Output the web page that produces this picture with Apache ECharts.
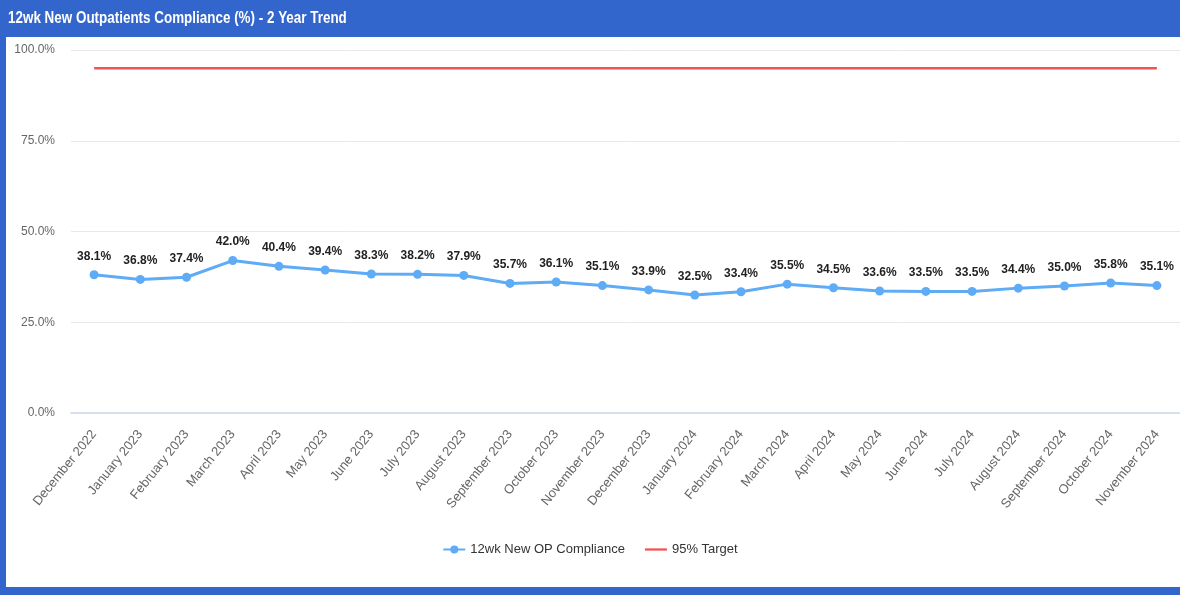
<!DOCTYPE html>
<html>
<head>
<meta charset="utf-8">
<script src="https://cdn.jsdelivr.net/npm/echarts@6/dist/echarts.min.js"></script>
<style>
  html, body { margin: 0; padding: 0; background: #ffffff; }
  #chart { width: 1180px; height: 595px; }
</style>
</head>
<body>
<div id="chart"></div>
<script>
// Months covered by the trend
const months = [
  'December 2022', 'January 2023', 'February 2023', 'March 2023', 'April 2023',
  'May 2023', 'June 2023', 'July 2023', 'August 2023', 'September 2023',
  'October 2023', 'November 2023', 'December 2023', 'January 2024', 'February 2024',
  'March 2024', 'April 2024', 'May 2024', 'June 2024', 'July 2024',
  'August 2024', 'September 2024', 'October 2024', 'November 2024'
];

// 12-week new outpatient compliance (%)
const compliance = [
  38.1, 36.8, 37.4, 42.0, 40.4, 39.4, 38.3, 38.2, 37.9, 35.7,
  36.1, 35.1, 33.9, 32.5, 33.4, 35.5, 34.5, 33.6, 33.5, 33.5,
  34.4, 35.0, 35.8, 35.1
];

// Target level (%)
const targetValue = 95;
const target = months.map(() => targetValue);

// Y axis range and step (%)
const yMin = 0;
const yMax = 100;
const yStep = 25;

const titleText = '12wk New Outpatients Compliance (%) - 2 Year Trend';
const seriesNames = ['12wk New OP Compliance', '95% Target'];

const sans = '"Liberation Sans", Arial, sans-serif';

const chart = echarts.init(document.getElementById('chart'), null, { renderer: 'canvas' });

chart.setOption({
  animation: false,
  backgroundColor: '#ffffff',
  graphic: [
    // frame: header band, left edge and footer band
    { type: 'rect', left: 0, top: 0, shape: { width: 1180, height: 37 }, style: { fill: '#3366cc' }, z: -1 },
    { type: 'rect', left: 0, top: 0, shape: { width: 6, height: 595 }, style: { fill: '#3366cc' }, z: -1 },
    { type: 'rect', left: 0, top: 587, shape: { width: 1180, height: 8 }, style: { fill: '#3366cc' }, z: -1 },
    // header title in a condensed bold face
    {
      type: 'text',
      x: 8,
      y: 18,
      scaleX: 0.79,
      z: 10,
      style: {
        text: titleText,
        fill: '#ffffff',
        font: 'bold 17px ' + sans,
        textVerticalAlign: 'middle'
      }
    }
  ],
  legend: {
    bottom: 34,
    left: 'center',
    itemGap: 20,
    itemWidth: 22,
    itemHeight: 10,
    textStyle: { color: '#333333', fontFamily: sans, fontSize: 13 },
    data: [
      { name: seriesNames[0] },
      { name: seriesNames[1], icon: 'path://M0,4 L24,4 L24,6.5 L0,6.5 Z' }
    ]
  },
  grid: { left: 71, right: 0, top: 50, bottom: 182 },
  xAxis: {
    type: 'category',
    data: months,
    boundaryGap: true,
    axisLine: { lineStyle: { color: '#d8e0f0', width: 2 } },
    axisTick: { show: false },
    axisLabel: {
      rotate: 51,
      interval: 0,
      margin: 19,
      color: '#666666',
      fontFamily: sans,
      fontSize: 13
    }
  },
  yAxis: {
    type: 'value',
    min: yMin,
    max: yMax,
    interval: yStep,
    axisLine: { show: false },
    axisTick: { show: false },
    splitLine: { lineStyle: { color: '#e8e8e8', width: 1 } },
    axisLabel: {
      color: '#666666',
      fontFamily: sans,
      fontSize: 12,
      margin: 16,
      formatter: v => v.toFixed(1) + '%'
    }
  },
  series: [
    {
      name: seriesNames[0],
      type: 'line',
      data: compliance,
      symbol: 'circle',
      symbolSize: 9,
      lineStyle: { color: '#5eabf6', width: 3 },
      itemStyle: { color: '#5eabf6' },
      label: {
        show: true,
        position: 'top',
        distance: 8,
        color: '#222222',
        fontFamily: sans,
        fontWeight: 'bold',
        fontSize: 12,
        formatter: p => p.value.toFixed(1) + '%'
      },
      z: 3
    },
    {
      name: seriesNames[1],
      type: 'line',
      data: target,
      symbol: 'none',
      lineStyle: { color: '#f05454', width: 2.5 },
      itemStyle: { color: '#f05454' },
      z: 2
    }
  ]
});
</script>
</body>
</html>
